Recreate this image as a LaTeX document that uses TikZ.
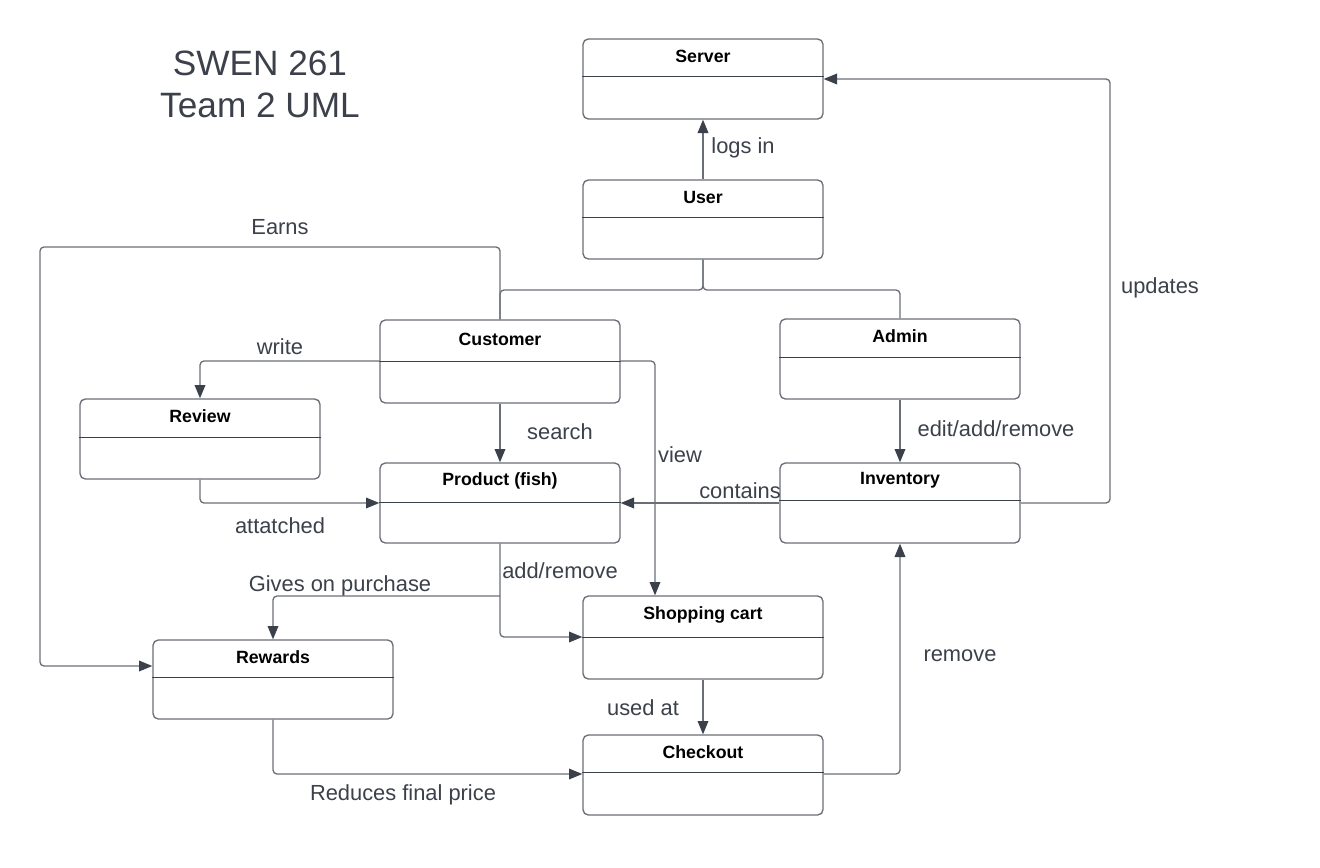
\documentclass[tikz,border=0pt]{standalone}
\usepackage{fontspec}
\setmainfont{Liberation Sans}
\usetikzlibrary{arrows.meta,fit}
\definecolor{lnc}{HTML}{6A6E76}
\definecolor{txc}{HTML}{3B404A}
\definecolor{arc}{HTML}{3B414B}
\newcommand{\umlbox}[7]{%
  \node[box, fit={(#2,#3) (#4,#5)}] (#1) {};
  \draw[divider] (#1.west |- 0,#6) -- (#1.east |- 0,#6);
  \node[boxtitle] (#1-t) at ({(#2+#4)/2},{(#3+#6)/2-1.5}) {#7};
}
\begin{document}
\begin{tikzpicture}[x=0.75pt,y=-0.75pt,
  box/.style={draw=lnc, line width=1pt, rounded corners=4pt, fill=white, inner sep=0pt},
  boxtitle/.style={font=\fontsize{13.3}{16}\selectfont\bfseries, text=black},
  divider/.style={draw=arc, line width=0.75pt},
  conn/.style={draw=lnc, line width=1pt, rounded corners=3pt},
  arr/.style={conn, -{Triangle[length=10pt,width=8pt,color=arc]}},
  lbl/.style={font=\fontsize{16.4}{19}\selectfont, text=txc},
  titletext/.style={font=\fontsize{26.4}{30}\selectfont, text=txc}]
\useasboundingbox (0,0) rectangle (1320,867);

\node[titletext] (t1) at (260,63) {SWEN 261};
\node[titletext] (t2) at (260,105) {Team 2 UML};

\umlbox{server}{583}{39}{823}{119}{77}{Server}
\umlbox{user}{583}{180}{823}{259}{217}{User}
\umlbox{customer}{380}{320}{620}{403}{361}{Customer}
\umlbox{admin}{780}{319}{1020}{399}{357}{Admin}
\umlbox{review}{80}{399}{320}{479}{437}{Review}
\umlbox{product}{380}{463}{620}{543}{502}{Product (fish)}
\umlbox{inventory}{780}{463}{1020}{543}{500}{Inventory}
\umlbox{cart}{583}{596}{823}{679}{637}{Shopping cart}
\umlbox{rewards}{153}{640}{393}{719}{677}{Rewards}
\umlbox{checkout}{583}{735}{823}{815}{772}{Checkout}

% connectors
\draw[arr] (user.north) -- (server.south);
\draw[conn] (user.south) -- (703,290) -- (500,290) -- (customer.north);
\draw[conn] (user.south) -- (703,290) -- (900,290) -- (admin.north);
\draw[arr] (customer.north) -- (500,247) -- (40,247) -- (40,666) -- (rewards.west |- 0,666);
\draw[arr] (customer.west |- 0,361) -- (200,361) -- (review.north);
\draw[arr] (customer.south) -- (product.north);
\draw[arr] (customer.east |- 0,361) -- (655,361) -- (cart.north -| 655,0);
\draw[arr] (review.south) -- (200,503) -- (product.west |- 0,503);
\draw[arr] (inventory.west |- 0,503) -- (product.east |- 0,503);
\draw[arr] (inventory.east |- 0,503) -- (1110,503) -- (1110,79) -- (server.east |- 0,79);
\draw[arr] (admin.south) -- (inventory.north);
\draw[arr] (product.south) -- (500,637) -- (cart.west |- 0,637);
\coordinate (gp) at (500,596);
\draw[arr] (gp) -- (273,596) -- (rewards.north);
\draw[arr] (cart.south) -- (checkout.north);
\draw[arr] (rewards.south) -- (273,774) -- (checkout.west |- 0,774);
\draw[arr] (checkout.east |- 0,774) -- (900,774) -- (inventory.south);

% labels
\node[lbl] (l1) at (743,148) {logs in};
\node[lbl] (l2) at (280,227) {Earns};
\node[lbl] (l3) at (280,347) {write};
\node[lbl] (l4) at (560,432) {search};
\node[lbl] (l5) at (680,455) {view};
\node[lbl] (l6) at (280,526) {attatched};
\node[lbl] (l7) at (740,491) {contains};
\node[lbl] (l8) at (996,429) {edit/add/remove};
\node[lbl] (l9) at (560,571) {add/remove};
\node[lbl] (l10) at (340,586) {Gives on purchase};
\node[lbl] (l11) at (1160,288) {updates};
\node[lbl] (l12) at (960,656) {remove};
\node[lbl] (l13) at (643,708) {used at};
\node[lbl] (l14) at (403,795) {Reduces final price};
\end{tikzpicture}
\end{document}
